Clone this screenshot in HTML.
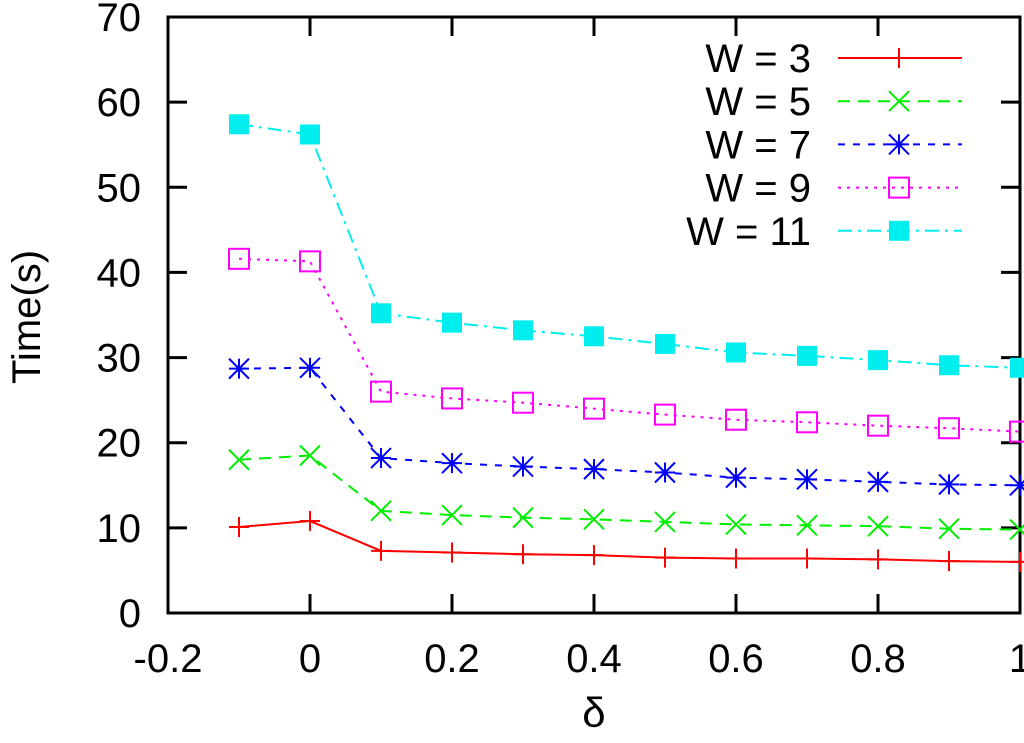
<!DOCTYPE html>
<html><head><meta charset="utf-8"><style>
body{margin:0;background:#fff;}
svg text{font-family:"Liberation Sans",sans-serif;fill:#000;}
</style></head><body>
<svg id="chart" width="1024" height="738" xmlns="http://www.w3.org/2000/svg"></svg>
<script>
const xValues=[-0.1,0,0.1,0.2,0.3,0.4,0.5,0.6,0.7,0.8,0.9,1.0];
const w3=[10.1,10.8,7.3,7.1,6.9,6.8,6.5,6.4,6.4,6.3,6.1,6.0];
const w5=[18.0,18.5,12.0,11.5,11.2,11.0,10.7,10.4,10.3,10.2,9.9,9.8];
const w7=[28.7,28.8,18.2,17.6,17.2,16.9,16.5,15.9,15.7,15.4,15.1,15.0];
const w9=[41.6,41.3,26.0,25.2,24.7,24.0,23.3,22.7,22.4,22.0,21.7,21.3];
const w11=[57.4,56.2,35.2,34.1,33.2,32.5,31.6,30.6,30.2,29.7,29.1,28.8];
const seriesLabels=["W = 3","W = 5","W = 7","W = 9","W = 11"];
const xTicks=[-0.2,0,0.2,0.4,0.6,0.8,1];
const xTickLabels=["-0.2","0","0.2","0.4","0.6","0.8","1"];
const yTicks=[0,10,20,30,40,50,60,70];

const svg=document.getElementById('chart');
const NS='http://www.w3.org/2000/svg';
const L=168,R=1020,T=17,B=613;
const xs=v=>L+(v+0.2)/1.2*(R-L);
const ys=v=>B-v/70*(B-T);
function mk(tag,attrs,parent){const e=document.createElementNS(NS,tag);for(const k in attrs)e.setAttribute(k,attrs[k]);(parent||svg).appendChild(e);return e;}

yTicks.forEach(t=>{
  const y=ys(t);
  const g=mk('g',{});
  
  
  if(t>0&&t<70){mk('line',{x1:L,y1:y,x2:L+19,y2:y,stroke:'#000','stroke-width':3},g);mk('line',{x1:R,y1:y,x2:R-19,y2:y,stroke:'#000','stroke-width':3},g);}
  const tx=mk('text',{x:141,y:y+14,'font-size':40,'text-anchor':'end'},g);tx.textContent=t;
});
xTicks.forEach((t,i)=>{
  const x=xs(t);
  const g=mk('g',{});
  
  
  if(i>0&&i<xTicks.length-1){mk('line',{x1:x,y1:B,x2:x,y2:B-19,stroke:'#000','stroke-width':3},g);mk('line',{x1:x,y1:T,x2:x,y2:T+19,stroke:'#000','stroke-width':3},g);}
  const tx=mk('text',{x:x,y:672,'font-size':40,'text-anchor':'middle'},g);tx.textContent=xTickLabels[i];
});
const frame=mk('rect',{x:L,y:T,width:R-L,height:B-T,fill:'none',stroke:'#000','stroke-width':3});


const yt=mk('text',{x:0,y:0,'font-size':40,'text-anchor':'middle',transform:'translate(40,317) rotate(-90)'});
yt.textContent='Time(s)';


const xt=mk('text',{x:594,y:727,'font-size':42,'text-anchor':'middle'});
xt.textContent='δ';



const data=[w3,w5,w7,w9,w11];
const colors=['#ff0000','#00ee00','#0000ff','#ff00ff','#00eeee'];
const dashes=['none','12,8','7,8','3,6','14,6,3,6'];
function marker(k,x,y,g){
  const c=colors[k],s=10;
  if(k===0){mk('line',{x1:x-s,y1:y,x2:x+s,y2:y,stroke:c,'stroke-width':2},g);mk('line',{x1:x,y1:y-s,x2:x,y2:y+s,stroke:c,'stroke-width':2},g);}
  else if(k===1){mk('path',{d:`M${x-s} ${y-s}L${x+s} ${y+s}M${x-s} ${y+s}L${x+s} ${y-s}`,stroke:c,'stroke-width':2},g);}
  else if(k===2){mk('path',{d:`M${x-s} ${y}L${x+s} ${y}M${x} ${y-s}L${x} ${y+s}M${x-s} ${y-s}L${x+s} ${y+s}M${x-s} ${y+s}L${x+s} ${y-s}`,stroke:c,'stroke-width':2},g);}
  else if(k===3){mk('rect',{x:x-s,y:y-s,width:2*s,height:2*s,fill:'none',stroke:c,'stroke-width':2},g);}
  else {mk('rect',{x:x-s,y:y-s,width:2*s,height:2*s,fill:c},g);}
}
data.forEach((vals,k)=>{
  const g=mk('g',{});
  
  
  const pts=vals.map((v,i)=>xs(xValues[i])+','+ys(v)).join(' ');
  mk('polyline',{points:pts,fill:'none',stroke:colors[k],'stroke-width':2,'stroke-dasharray':dashes[k]},g);
  vals.forEach((v,i)=>marker(k,xs(xValues[i]),ys(v),g));
  const ly=58+k*43.2;
  const lg=mk('g',{});
  
  
  const lt=mk('text',{x:811,y:ly+14,'font-size':40,'text-anchor':'end'},lg);lt.textContent=seriesLabels[k];
  mk('line',{x1:838,y1:ly,x2:962,y2:ly,stroke:colors[k],'stroke-width':2,'stroke-dasharray':dashes[k]},lg);
  marker(k,899,ly,lg);
});
</script>
</body></html>
